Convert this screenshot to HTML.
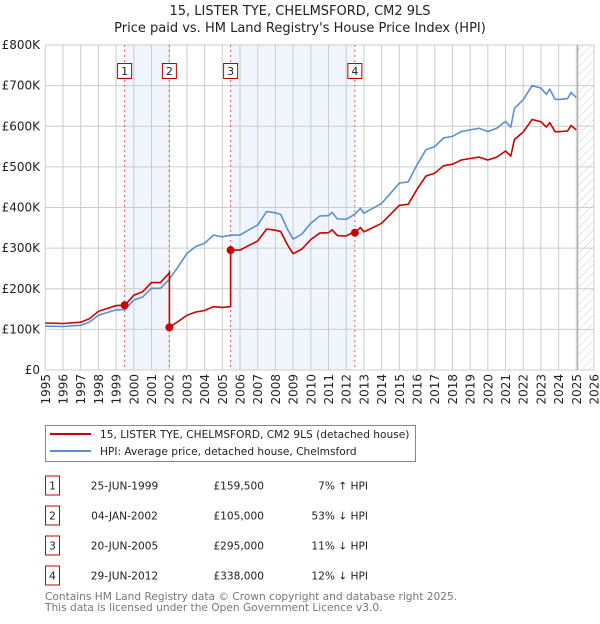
<!DOCTYPE html>
<html><head><meta charset="utf-8"><style>
body{margin:0;background:#fff;width:600px;height:620px;overflow:hidden;font-family:"DejaVu Sans","Liberation Sans",sans-serif}
</style></head><body>
<svg id="chart" width="600" height="620" xmlns="http://www.w3.org/2000/svg" font-family="DejaVu Sans, Liberation Sans, sans-serif">
<text x="300" y="15" text-anchor="middle" font-size="13" fill="#222">15, LISTER TYE, CHELMSFORD, CM2 9LS</text>
<text x="300" y="32" text-anchor="middle" font-size="13" fill="#222">Price paid vs. HM Land Registry's House Price Index (HPI)</text>
<g id="plot"></g>
<g>
<rect x="45.5" y="425.5" width="370" height="36" fill="#fff" stroke="#888"/>
<line x1="50" y1="434" x2="91" y2="434" stroke="#cc0000" stroke-width="2"/>
<text x="100" y="438" font-size="10.6" fill="#222">15, LISTER TYE, CHELMSFORD, CM2 9LS (detached house)</text>
<line x1="50" y1="451" x2="91" y2="451" stroke="#5b8fd0" stroke-width="2"/>
<text x="100" y="455" font-size="10.6" fill="#222">HPI: Average price, detached house, Chelmsford</text>
</g>
<g id="table" font-size="10.6" fill="#222"></g>
<text x="45" y="600" font-size="10.6" fill="#777">Contains HM Land Registry data © Crown copyright and database right 2025.</text>
<text x="45" y="611" font-size="10.6" fill="#777">This data is licensed under the Open Government Licence v3.0.</text>
</svg>
<script>
const hpiYears=[1995,1996,1997,1997.5,1998,1999,1999.5,2000,2000.5,2001,2001.5,2002,2002.5,2003,2003.5,2004,2004.5,2005,2005.5,2006,2006.5,2007,2007.5,2008,2008.3,2008.7,2009,2009.5,2010,2010.5,2011,2011.2,2011.5,2012,2012.5,2012.8,2013,2013.5,2014,2014.5,2015,2015.5,2016,2016.5,2017,2017.5,2018,2018.5,2019,2019.5,2020,2020.5,2021,2021.3,2021.5,2022,2022.5,2023,2023.3,2023.5,2023.8,2024,2024.5,2024.7,2025.0];
const hpiValues=[108,107,110,118,135,148,149,172,180,201,201,223,254,287,304,312,332,328,332,332,345,357,390,387,383,345,322,335,361,379,380,388,372,371,384,398,386,398,410,435,460,463,505,542,550,571,575,587,591,595,587,595,612,598,644,665,700,694,679,691,666,666,668,683,671];
const saleLabels=["1","2","3","4"];
const saleDates=[1999.48,2002.01,2005.47,2012.49];
const salePrices=[159.5,105,295,338];
const saleDateText=["25-JUN-1999","04-JAN-2002","20-JUN-2005","29-JUN-2012"];
const salePriceText=["£159,500","£105,000","£295,000","£338,000"];
const saleHpiText=["7% ↑ HPI","53% ↓ HPI","11% ↓ HPI","12% ↓ HPI"];
const yTicks=[0,100,200,300,400,500,600,700,800];
const yTickLabels=["£0","£100K","£200K","£300K","£400K","£500K","£600K","£700K","£800K"];
const xTicks=[1995,1996,1997,1998,1999,2000,2001,2002,2003,2004,2005,2006,2007,2008,2009,2010,2011,2012,2013,2014,2015,2016,2017,2018,2019,2020,2021,2022,2023,2024,2025,2026];

const NS="http://www.w3.org/2000/svg";
const L=45.3,R=594,T=45,B=370,X0=1995,X1=2026,YMAX=800;
const sx=v=>L+(v-X0)/(X1-X0)*(R-L);
const sy=v=>B-v/YMAX*(B-T);
const plot=document.getElementById('plot');
function mk(tag,attrs,parent){const e=document.createElementNS(NS,tag);for(const k in attrs)e.setAttribute(k,attrs[k]);(parent||plot).appendChild(e);return e;}
function hpiAt(t){for(let i=0;i<hpiYears.length-1;i++){if(t>=hpiYears[i]&&t<=hpiYears[i+1]){const f=(t-hpiYears[i])/(hpiYears[i+1]-hpiYears[i]);return hpiValues[i]+f*(hpiValues[i+1]-hpiValues[i]);}}return hpiValues[hpiValues.length-1];}

[[0,1],[2,3]].forEach(p=>{
 const r=mk('rect',{x:sx(saleDates[p[0]]),y:T,width:sx(saleDates[p[1]])-sx(saleDates[p[0]]),height:B-T,fill:'#eef3fc',opacity:'0.8'});
 
 
});
const defs=mk('defs',{});
const pat=mk('pattern',{id:'hatch',width:6,height:6,patternUnits:'userSpaceOnUse',patternTransform:'rotate(45)'},defs);
mk('line',{x1:0,y1:0,x2:0,y2:6,stroke:'#ccc','stroke-width':1},pat);
const hx=sx(2025.08);
const hr=mk('rect',{x:hx,y:T,width:R-hx,height:B-T,fill:'url(#hatch)'});


xTicks.forEach(t=>{
 const g=mk('line',{x1:sx(t),y1:T,x2:sx(t),y2:B,stroke:'#ccc','stroke-width':1});
 
 
 const grp=mk('g',{transform:`translate(${(sx(t)+4.5).toFixed(1)},${B+4}) rotate(-90)`});
 const lb=mk('text',{x:0,y:0,'text-anchor':'end','font-size':12,fill:'#222'},grp);
 lb.textContent=t;
 
 
});
yTicks.forEach((v,i)=>{
 const g=mk('line',{x1:L,y1:sy(v),x2:R,y2:sy(v),stroke:'#ccc','stroke-width':1});
 
 
 const lb=mk('text',{x:40,y:sy(v)+4,'text-anchor':'end','font-size':12,fill:'#222'});
 lb.textContent=yTickLabels[i];
 
 
});
mk('line',{x1:hx,y1:T,x2:hx,y2:B,stroke:'#999','stroke-width':1});
saleDates.forEach((d,i)=>{
 const v=mk('line',{x1:sx(d),y1:T,x2:sx(d),y2:B,stroke:'#e06060','stroke-width':1,'stroke-dasharray':'2,3'});
 
 
 const bx=mk('rect',{x:sx(d)-7,y:63.5,width:14,height:15,fill:'#fff',stroke:'#b00','stroke-width':1});
 
 
 const t=mk('text',{x:sx(d),y:75,'text-anchor':'middle','font-size':11,fill:'#222'});
 t.textContent=saleLabels[i];
});
const hp=hpiYears.map((y,i)=>`${i?'L':'M'}${sx(y).toFixed(1)},${sy(hpiValues[i]).toFixed(1)}`).join('');
const hl=mk('path',{d:hp,fill:'none',stroke:'#5b8fd0','stroke-width':1.6});


const ratios=saleDates.map((d,i)=>salePrices[i]/hpiAt(d));
function segIdx(t){let k=0;for(let i=1;i<saleDates.length;i++)if(t>=saleDates[i])k=i;return k;}
let pts=[];
const allT=[...hpiYears,...saleDates].sort((a,b)=>a-b);
allT.forEach(t=>{
 const k=segIdx(t);
 if(saleDates.includes(t)&&k>0){pts.push([t,hpiAt(t)*ratios[k-1]]);}
 pts.push([t,hpiAt(t)*ratios[k]]);
});
const rp=pts.map((p,i)=>`${i?'L':'M'}${sx(p[0]).toFixed(1)},${sy(p[1]).toFixed(1)}`).join('');
const rl=mk('path',{d:rp,fill:'none',stroke:'#cc0000','stroke-width':1.6});


saleDates.forEach((d,i)=>{
 const c=mk('circle',{cx:sx(d),cy:sy(salePrices[i]),r:4,fill:'#cc0000'});
 
 
});
const tb=document.getElementById('table');
saleLabels.forEach((s,i)=>{
 const y=485.5+i*30;
 const bx=mk('rect',{x:45.5,y:y-9.5,width:14,height:19,fill:'#fff',stroke:'#cc0000'},tb);
 
 
 const n=mk('text',{x:52.5,y:y+4,'text-anchor':'middle'},tb);n.textContent=s;
 const dt=mk('text',{x:124.5,y:y+4,'text-anchor':'middle'},tb);dt.textContent=saleDateText[i];
 
 
 const pr=mk('text',{x:264,y:y+4,'text-anchor':'end'},tb);pr.textContent=salePriceText[i];
 
 
 const hh=mk('text',{x:368,y:y+4,'text-anchor':'end'},tb);hh.textContent=saleHpiText[i];
 
 
});
</script>
</body></html>
